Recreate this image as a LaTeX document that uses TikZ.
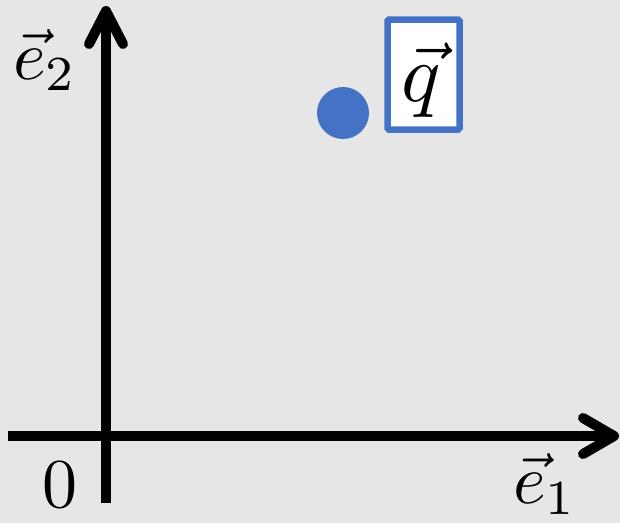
\documentclass[tikz,border=0pt]{standalone}
\usepackage{graphicx}
\usepackage{xcolor}
\definecolor{bg}{HTML}{E6E6E6}
\definecolor{qblue}{HTML}{4472C4}
\newcommand{\bigmath}[1]{\scalebox{7}{$#1$}}
\begin{document}
\begin{tikzpicture}[x=1pt,y=-1pt,
  axis/.style={line width=10pt,black},
  chev/.style={line width=10pt,black,line cap=round,line join=round},
  lbl/.style={inner sep=0pt}]
\fill[bg] (0,0) rectangle (620,523);
\useasboundingbox (0,0) rectangle (620,523);
% axes
\coordinate (xl) at (8,436);
\coordinate (xr) at (610,436);
\coordinate (xt) at (614,436);
\coordinate (yb) at (106,503);
\coordinate (yt) at (106,15);
\coordinate (ytip) at (106,11);
\draw[axis] (xl) -- (xr);
\draw[axis] (yb) -- (yt);
\draw[chev] ([shift={(-31,-18)}]xt) -- (xt) -- ([shift={(-31,18)}]xt);
\draw[chev] ([shift={(-17,33)}]ytip) -- (ytip) -- ([shift={(17,33)}]ytip);
% labels
\node[lbl] (e2) at (45,60) {\bigmath{\vec{e}_2}};
\node[lbl] (e1) at (545,484) {\bigmath{\vec{e}_1}};
\node[lbl] (zero) at (60,485) {\bigmath{0}};
% point and label
\fill[qblue] (343,113) circle (26);
\node[draw=qblue,fill=white,line width=6.5pt,rounded corners=1.5pt,minimum width=72pt,minimum height=110pt,inner sep=0pt] (qbox) at (423.5,74.5) {};
\node[lbl] (q) at (421,80) {\scalebox{8.2}{$\vec{q}$}};
\end{tikzpicture}
\end{document}
